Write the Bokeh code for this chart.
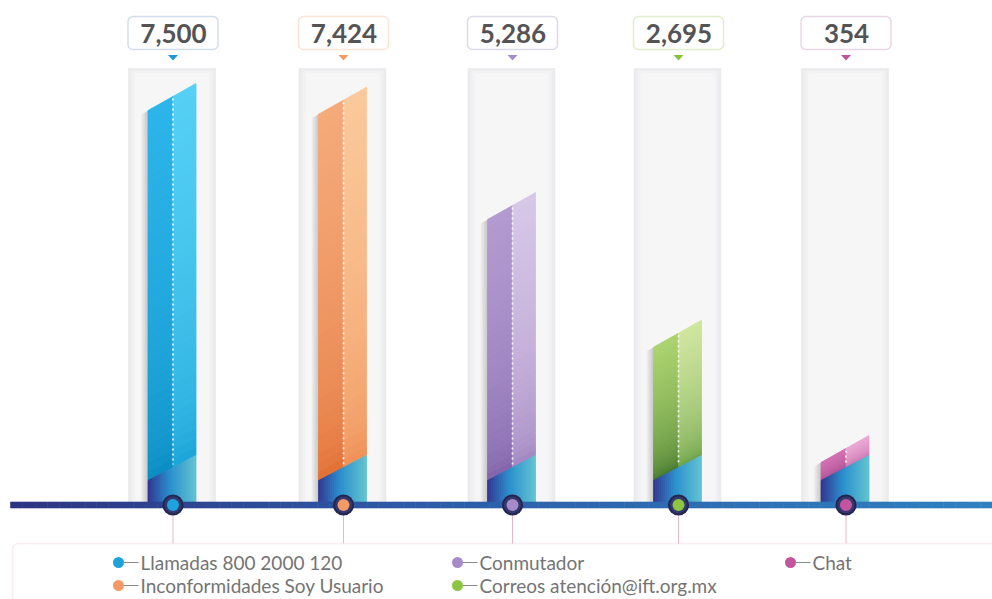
import numpy as np
from bokeh.plotting import figure
from bokeh.models import Range1d, BoxAnnotation, ColumnDataSource
from bokeh.core.properties import value
from bokeh.embed import file_html
from bokeh.resources import INLINE

# ---------------- data ----------------
categories = ["Llamadas 800 2000 120", "Inconformidades Soy Usuario", "Conmutador",
              "Correos atención@ift.org.mx", "Chat"]
values = [7500, 7424, 5286, 2695, 354]
value_labels = ["7,500", "7,424", "5,286", "2,695", "354"]

# ---------------- style ----------------
dot_colors = ["#1ea2dc", "#f39a66", "#a78bc8", "#8dc441", "#c2569e"]
box_borders = ["#6b8fc4", "#eea17a", "#8f83bb", "#9bc85e", "#bb79ad"]
tri_colors = ["#1c98d6", "#f19a68", "#a58ccb", "#86c23c", "#c0549c"]
top_left = ["#2cb5ea", "#f5aa7a", "#b39bd1", "#acd46f", "#d271b3"]
top_right = ["#55d0f5", "#fbc99b", "#d7c7e7", "#d0e69f", "#eaa8d4"]
bot_left = ["#0788be", "#e0692c", "#7c5ea6", "#386e26", "#a64a8e"]
bot_right = ["#149fd4", "#ee8a4e", "#9c80be", "#5f9a3c", "#c46aa8"]
slots = [171.5, 342, 511, 677, 844.5]      # horizontal slot centres (px)

W, H = 992, 599
U = 20.3          # value units per pixel
BASE = -1026      # value at the baseline


def Y(img_y):
    return BASE + (503 - img_y) * U


def hex2rgb(h):
    h = h.lstrip("#")
    return np.array([int(h[i:i + 2], 16) for i in (0, 2, 4)], float)


def mix(a, b, t):
    c = hex2rgb(a) * (1 - t) + hex2rgb(b) * t
    return "#%02x%02x%02x" % tuple(int(round(v)) for v in c)


def grad3(stops, t):
    (s0, c0), (s1, c1), (s2, c2) = stops
    if t <= s1:
        return mix(c0, c1, (t - s0) / (s1 - s0))
    return mix(c1, c2, (t - s1) / (s2 - s1))


p = figure(width=W, height=H, x_range=Range1d(0, W), y_range=Range1d(Y(H), Y(0)),
           output_backend="svg", toolbar_location=None, min_border=0,
           x_axis_location=None, y_axis_location=None)
p.grid.visible = False
p.outline_line_color = None
p.background_fill_color = "white"
p.border_fill_color = "white"

# ---------------- value boxes (drawn under the glyphs) ----------------
for i, cx in enumerate(slots):
    bcx = cx + 1
    p.add_layout(BoxAnnotation(left=bcx - 45, right=bcx + 45, top=Y(16), bottom=Y(49),
                               fill_color="white", fill_alpha=1, line_color=box_borders[i],
                               line_width=1.5, border_radius=5, level="underlay"))

# ---------------- panels ----------------
px, py, pc = [], [], []
for cx in slots:
    for k in range(9):
        l, r = cx - 43.5 + k, cx + 43.5 - k
        t, b = 68 + k * 0.7, 503
        px.append([l, r, r, l])
        py.append([Y(t), Y(t), Y(b), Y(b)])
        pc.append(mix("#eae9eb", "#f7f6f7", (k / 8) ** 0.8))
p.patches(xs="xs", ys="ys", fill_color="c", line_color="c", line_width=0.6,
          source=ColumnDataSource(dict(xs=px, ys=py, c=pc)))

# ---------------- bars ----------------
sx, sy, sa = [], [], []
bx, by, bc = [], [], []
tx, ty, tc = [], [], []
dots_x, dots_y0, dots_y1 = [], [], []
SLANT = 27 * U
teal_stops = [(0, "#33358f"), (0.45, "#2a8ecd"), (1, "#62c3d0")]

for i, v in enumerate(values):
    cx = slots[i]
    xl, xr, xm = cx - 24, cx + 24, cx + 1

    def ytop(x, v=v, xl=xl, xr=xr):
        return v - SLANT * (xr - x) / (xr - xl)

    def ybot(x, xl=xl, xr=xr):
        return BASE + U * (23 + 25 * (x - xl) / (xr - xl))

    # soft shadow on the left
    for k in range(1, 8):
        sx.append([xl - k, xr - k, xr - k, xl - k])
        sy.append([ytop(xl) - k * U * 0.6, ytop(xr) - k * U * 0.6, BASE, BASE])
        sa.append(0.04)

    # body halves with vertical gradient
    N = 40
    for half, (xa, xb) in enumerate([(xl, xm), (xm, xr)]):
        tcol = top_left[i] if half == 0 else top_right[i]
        bcol = bot_left[i] if half == 0 else bot_right[i]
        for j in range(N):
            t0, t1 = j / N, (j + 1) / N
            ya0 = ybot(xa) + t0 * (ytop(xa) - ybot(xa))
            yb0 = ybot(xb) + t0 * (ytop(xb) - ybot(xb))
            ya1 = ybot(xa) + t1 * (ytop(xa) - ybot(xa))
            yb1 = ybot(xb) + t1 * (ytop(xb) - ybot(xb))
            bx.append([xa, xb, xb, xa])
            by.append([ya0, yb0, yb1, ya1])
            tt = min(1.0, ((t0 + t1) / 2) ** 0.45)
            bc.append(mix(bcol, tcol, tt))

    # bottom band with horizontal gradient
    M = 24
    for j in range(M):
        xa = xl + (xr - xl) * j / M
        xb = xl + (xr - xl) * (j + 1) / M
        tx.append([xa, xb, xb, xa])
        ty.append([BASE, BASE, ybot(xb), ybot(xa)])
        tc.append(grad3(teal_stops, (j + 0.5) / M))

    dots_x.append(xm)
    dots_y0.append(ytop(xm) - 2 * U)
    dots_y1.append(ybot(xm) + 3 * U)

p.patches(xs="xs", ys="ys", fill_color="#555058", fill_alpha="a", line_color=None,
          source=ColumnDataSource(dict(xs=sx, ys=sy, a=sa)))
p.patches(xs="xs", ys="ys", fill_color="c", line_color="c", line_width=0.8,
          source=ColumnDataSource(dict(xs=bx, ys=by, c=bc)))
p.patches(xs="xs", ys="ys", fill_color="c", line_color="c", line_width=0.8,
          source=ColumnDataSource(dict(xs=tx, ys=ty, c=tc)))
p.segment(x0=dots_x, y0=dots_y0, x1=dots_x, y1=dots_y1, line_color="white",
          line_width=1.6, line_dash="2 3", line_alpha=0.95)

# ---------------- connector lines to the legend ----------------
p.segment(x0=[c + 1 for c in slots], y0=[Y(510)] * 5, x1=[c + 1 for c in slots],
          y1=[Y(543)] * 5, line_color="#e9b7c8", line_width=1)

# ---------------- baseline ----------------
ax_x, ax_y, ax_c = [], [], []
K = 80
x_start, x_end = 10, W
for j in range(K):
    xa = x_start + (x_end - x_start) * j / K
    xb = x_start + (x_end - x_start) * (j + 1) / K
    ax_x.append([xa, xb, xb, xa])
    ax_y.append([Y(501.5), Y(501.5), Y(507.5), Y(507.5)])
    ax_c.append(grad3([(0, "#2e3482"), (0.4, "#2d5aa6"), (1, "#2f80c0")], (j + 0.5) / K))
p.patches(xs="xs", ys="ys", fill_color="c", line_color="c", line_width=0.6,
          source=ColumnDataSource(dict(xs=ax_x, ys=ax_y, c=ax_c)))

# circles on the baseline
cxs = [c + 1 for c in slots]
p.scatter(cxs, [Y(504.5)] * 5, size=21, fill_color="#23264f", line_color=None)
p.scatter(cxs, [Y(504.5)] * 5, size=17, fill_color="#333871", line_color=None)
p.scatter(cxs, [Y(504.5)] * 5, size=12, fill_color=dot_colors, line_color=None)

# ---------------- value labels ----------------
p.text(x=[c + 1.5 for c in slots], y=[Y(33)] * 5, text=value_labels,
       text_font=value("Lato"), text_font_style="bold", text_font_size="26px",
       text_color="#545454", text_align="center", text_baseline="middle")
p.patches(xs=[[c - 4, c + 6, c + 1] for c in slots],
          ys=[[Y(54.5), Y(54.5), Y(60)] for _ in slots],
          fill_color=tri_colors, line_color=None)

# ---------------- legend ----------------
p.add_layout(BoxAnnotation(left=12, right=1300, top=Y(543), bottom=Y(700),
                           fill_alpha=0, line_color="#eec2d0", line_width=1.5,
                           border_radius=6))
leg_cols = [118, 118, 457, 457, 790]
leg_rows = [562, 585, 562, 585, 562]
lx = leg_cols
ly = [Y(r) for r in leg_rows]
p.segment(x0=[x + 4 for x in lx], y0=ly, x1=[x + 20 for x in lx], y1=ly,
          line_color="#8a8a8a", line_width=1)
p.scatter(lx, ly, size=11, fill_color=dot_colors, line_color=None)
p.text(x=[x + 22 for x in lx], y=ly, text=categories, text_font=value("Lato"),
       text_font_size="19px", text_color="#747474", text_baseline="middle",
       text_align="left")

open("out.html", "w").write(file_html(p, INLINE))
